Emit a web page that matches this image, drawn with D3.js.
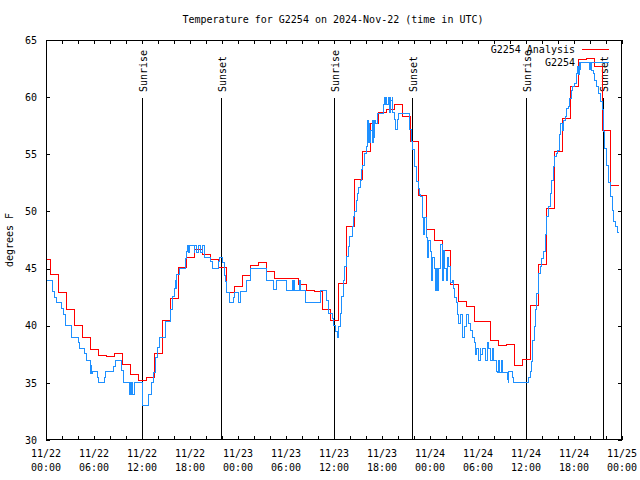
<!DOCTYPE html>
<html><head><meta charset="utf-8">
<script src="https://cdn.jsdelivr.net/npm/d3@7"></script>
<style>
body{margin:0;background:#fff}
svg text{font-family:"DejaVu Sans Mono","Liberation Mono",monospace;font-size:10px;fill:#000}
</style></head><body>
<svg id="c" width="640" height="480"></svg>
<script>
// ---------------- data ----------------
const title = "Temperature for G2254 on 2024-Nov-22 (time in UTC)";
const yLabel = "degrees F";
const seriesNames = ["G2254 Analysis", "G2254"];
const yTicks = [30, 35, 40, 45, 50, 55, 60, 65];
const xLabelDates = ["11/22","11/22","11/22","11/22","11/23","11/23","11/23","11/23","11/24","11/24","11/24","11/24","11/25"];
const xLabelTimes = ["00:00","06:00","12:00","18:00","00:00","06:00","12:00","18:00","00:00","06:00","12:00","18:00","00:00"];
// sun events, hours after 2024-11-22 00:00 UTC
const sunLabels = ["Sunrise","Sunset","Sunrise","Sunset","Sunrise","Sunset"];
const sunHours  = [12.05, 21.88, 36.04, 45.79, 59.95, 69.66];

// analysis (hourly, first value at 2024-11-21 23:37 UTC)
const redTemps = [45.8,44.5,42.9,41.4,40.0,39.0,37.9,37.4,37.3,37.6,36.6,35.7,35.2,35.5,37.6,40.5,
  42.4,45.1,46.0,46.7,46.2,45.8,45.1,42.9,43.4,44.4,45.3,45.5,44.75,44.1,44.1,44.1,43.6,43.06,43.0,
  41.44,40.44,43.7,48.67,52.8,55.26,57.71,58.64,58.93,59.34,58.35,56.14,51.42,48.4,47.5,46.6,43.65,
  42.13,41.7,40.33,40.33,38.75,38.23,38.4,36.48,37.06,41.77,45.4,50.24,55.26,58.12,60.92,63.31,
  63.37,62.67,57.07,52.23,52.23];

// observations: hours after 2024-11-22 00:00 UTC and temperatures
const blueHours = [0.0,0.08,0.83,1.08,1.25,1.92,2.17,2.42,3.17,4.0,4.17,4.83,5.08,5.5,5.58,5.67,5.83,6.42,6.58,
  7.25,7.42,8.42,8.67,9.42,9.67,10.42,10.5,10.58,10.67,10.75,11.0,12.0,12.83,13.17,13.42,13.67,13.92,14.17,
  14.92,15.58,15.83,16.0,16.17,16.25,16.33,16.67,17.42,17.58,17.67,17.75,17.92,18.5,18.58,18.75,19.0,19.33,
  19.5,19.75,20.58,20.75,21.58,21.67,22.0,22.25,22.42,22.58,22.92,23.42,23.58,24.0,24.33,25.0,25.5,27.58,
  28.42,28.83,30.0,30.75,30.83,30.92,31.0,31.67,31.83,32.42,34.25,35.08,35.33,35.75,35.92,36.17,36.42,36.58,
  36.75,36.92,37.17,37.33,37.5,37.75,37.92,38.25,38.42,38.58,38.75,38.92,39.08,39.25,39.42,39.58,39.83,
  40.08,40.17,40.25,40.33,40.42,40.5,40.75,40.83,40.92,41.0,41.08,41.17,41.42,42.17,42.25,42.33,42.42,42.5,
  42.83,42.92,43.0,43.08,43.25,43.33,43.5,43.67,43.92,44.08,45.42,45.67,45.83,46.08,46.33,46.58,46.67,46.83,
  47.0,47.17,47.33,47.5,47.67,47.83,48.0,48.17,48.33,48.5,48.67,48.83,48.92,49.0,49.33,49.5,49.67,49.83,
  50.0,50.17,50.33,50.5,50.75,50.92,51.08,51.25,51.42,51.58,51.83,52.08,52.33,52.5,52.75,53.0,53.25,53.5,
  53.67,53.83,54.0,54.25,54.33,54.5,54.92,55.17,55.33,55.58,55.83,55.92,56.25,56.33,56.42,56.58,56.67,
  56.92,57.0,57.67,57.75,57.83,58.25,58.42,60.25,60.5,60.67,60.83,61.0,61.17,61.33,61.58,61.75,61.92,
  62.17,62.42,62.58,62.75,63.0,63.17,63.42,63.58,63.75,63.92,64.17,64.33,64.5,64.67,64.92,65.08,65.25,
  65.42,65.67,65.83,66.0,66.25,66.42,66.58,66.67,66.75,66.83,67.92,68.0,68.17,68.42,68.58,68.83,69.08,
  69.25,69.5,69.67,69.83,70.08,70.33,70.5,70.75,70.92,71.17,71.42,71.67];
const blueTemps = [45.0,44.0,43.0,42.5,42.0,41.5,41.0,40.0,39.0,38.5,38.0,37.6,37.0,35.8,36.5,35.8,36.0,35.5,35.0,
  35.5,36.0,36.4,37.0,36.1,35.0,34.0,35.0,34.0,35.0,34.0,35.0,33.0,34.0,35.0,35.9,37.2,38.1,39.0,
  40.4,41.4,42.6,43.3,44.0,43.3,44.5,45.0,45.9,46.5,47.0,46.4,47.0,46.4,47.0,46.4,47.0,46.4,
  47.0,46.0,45.6,45.0,45.6,46.0,45.5,44.4,43.9,42.9,42.0,42.5,42.9,42.0,43.0,44.0,45.05,44.0,
  43.2,44.0,43.1,44.0,43.1,44.0,43.1,44.0,43.1,42.0,43.1,42.25,41.08,40.6,40.0,39.5,39.0,39.9,
  41.08,42.54,44.0,45.17,46.04,46.92,47.79,48.67,49.54,50.0,51.0,51.58,52.11,52.75,53.63,54.03,55.08,
  55.67,58.0,56.0,57.7,56.0,57.1,58.0,56.0,58.0,56.5,58.0,57.7,58.6,59.4,60.0,59.4,60.0,59.4,
  60.0,58.7,60.0,59.75,60.0,58.7,58.06,57.13,58.06,58.58,57.13,56.1,55.38,53.92,52.6,52.0,51.5,51.3,
  49.5,48.0,49.5,47.7,46.0,47.5,46.5,44.0,46.0,45.0,43.1,45.0,43.1,45.0,47.1,44.0,46.6,45.0,
  44.0,46.0,45.2,43.8,44.0,43.3,42.5,42.0,41.0,40.2,41.0,39.0,39.9,41.0,40.2,39.6,39.0,38.5,
  37.5,38.0,37.0,38.0,37.5,38.0,37.0,38.5,38.0,37.0,38.0,37.0,36.5,36.0,35.9,37.0,35.9,
  37.0,35.9,35.3,35.0,36.0,35.5,35.0,35.5,36.0,36.85,38.75,39.9,41.4,42.8,44.58,45.17,45.9,
  46.48,47.94,49.54,50.42,51.58,52.75,53.92,54.79,55.08,55.37,56.69,57.71,57.1,58.0,58.29,59.0,59.17,
  59.9,60.6,60.9,61.2,62.08,62.67,62.0,63.02,62.4,63.02,62.4,63.02,62.3,62.1,61.5,60.9,60.3,
  59.6,58.9,57.0,55.5,54.0,52.5,51.3,50.1,49.1,48.7,48.2,48.2];

// ---------------- chart ----------------
const W = 640, H = 480;
const m = {left: 46, right: 18, top: 40, bottom: 40};
const svg = d3.select("#c");
const HOUR = 3600e3;
const t0 = Date.UTC(2024, 10, 22, 0, 0);
const x = d3.scaleUtc().domain([new Date(t0), new Date(t0 + 72 * HOUR)]).range([m.left, W - m.right]);
const y = d3.scaleLinear().domain([30, 65]).range([H - m.bottom, m.top]);
const hourDate = h => new Date(t0 + h * HOUR);

const redStart = Date.UTC(2024, 10, 21, 23, 37);
const redData = redTemps.map((v, i) => ({t: new Date(redStart + i * HOUR), v}));
const blueData = blueHours.map((h, i) => ({t: hourDate(h), v: blueTemps[i]}));

svg.append("defs").append("clipPath").attr("id", "clip")
  .append("rect").attr("x", m.left).attr("y", m.top)
  .attr("width", W - m.left - m.right).attr("height", H - m.top - m.bottom);

// title
svg.append("text").attr("x", 333).attr("y", 23).attr("text-anchor", "middle").text(title);

// ticks: every 2 hours on x, every 5 on y, mirrored, inward
const tick2h = d3.utcHour.every(2).range(x.domain()[0], new Date(t0 + 72 * HOUR + 1));
const tickLen = 4;
const gx = svg.append("g").attr("transform", `translate(0,${H - m.bottom})`)
  .call(d3.axisBottom(x).tickValues(tick2h).tickSize(-tickLen).tickFormat(""));
const gxt = svg.append("g").attr("transform", `translate(0,${m.top})`)
  .call(d3.axisTop(x).tickValues(tick2h).tickSize(-tickLen).tickFormat(""));
const gy = svg.append("g").attr("transform", `translate(${m.left},0)`)
  .call(d3.axisLeft(y).tickValues(yTicks).tickSize(-tickLen).tickPadding(9));
const gyr = svg.append("g").attr("transform", `translate(${W - m.right},0)`)
  .call(d3.axisRight(y).tickValues(yTicks).tickSize(-tickLen).tickFormat(""));
[gx, gxt, gy, gyr].forEach(g => {
  g.select(".domain").remove();
  g.selectAll("line").attr("stroke", "#000").attr("shape-rendering", "crispEdges");
});
gy.selectAll("text").attr("font-family", "DejaVu Sans Mono").attr("font-size", 10).attr("fill", "#000");

// x labels in two rows
const labelTicks = xLabelDates.map((d, i) => hourDate(i * 6));
const xl = svg.append("g").selectAll("text").data(labelTicks).join("text")
  .attr("x", d => x(d)).attr("y", 457).attr("text-anchor", "middle");
xl.append("tspan").attr("x", d => x(d)).text((d, i) => xLabelDates[i]);
xl.append("tspan").attr("x", d => x(d)).attr("dy", 14).text((d, i) => xLabelTimes[i]);

// y label
svg.append("text").attr("transform", "translate(13,240) rotate(-90)")
  .attr("text-anchor", "middle").text(yLabel);

// sunrise/sunset
const sun = svg.append("g");
sunHours.forEach((h, i) => {
  const xp = Math.round(x(hourDate(h))) + 0.5;
  sun.append("line").attr("x1", xp).attr("x2", xp).attr("y1", 98).attr("y2", H - m.bottom)
    .attr("stroke", "#000").attr("shape-rendering", "crispEdges");
  sun.append("text").attr("transform", `translate(${xp + 4},92) rotate(-90)`)
    .attr("text-anchor", "start").text(sunLabels[i]);
});

// series
const line = d3.line().x(d => x(d.t)).y(d => y(d.v)).curve(d3.curveStepAfter);
const plot = svg.append("g").attr("clip-path", "url(#clip)");
plot.append("path").datum(redData).attr("d", line).attr("fill", "none")
  .attr("stroke", "#ff0000").attr("stroke-width", 1).attr("shape-rendering", "crispEdges");
plot.append("path").datum(blueData).attr("d", line).attr("fill", "none")
  .attr("stroke", "#1e90ff").attr("stroke-width", 1).attr("shape-rendering", "crispEdges");

// legend
const legendColors = ["#ff0000", "#1e90ff"];
const lg = svg.append("g");
seriesNames.forEach((n, i) => {
  const ly = 49 + i * 13;
  lg.append("text").attr("x", 575).attr("y", ly + 3.5).attr("text-anchor", "end").text(n);
  lg.append("line").attr("x1", 582).attr("x2", 609).attr("y1", ly + 0.5).attr("y2", ly + 0.5)
    .attr("stroke", legendColors[i]).attr("shape-rendering", "crispEdges");
});

// border
svg.append("rect").attr("x", m.left + 0.5).attr("y", m.top + 0.5)
  .attr("width", W - m.left - m.right - 1).attr("height", H - m.top - m.bottom - 1)
  .attr("fill", "none").attr("stroke", "#000").attr("shape-rendering", "crispEdges");
</script>
</body></html>
